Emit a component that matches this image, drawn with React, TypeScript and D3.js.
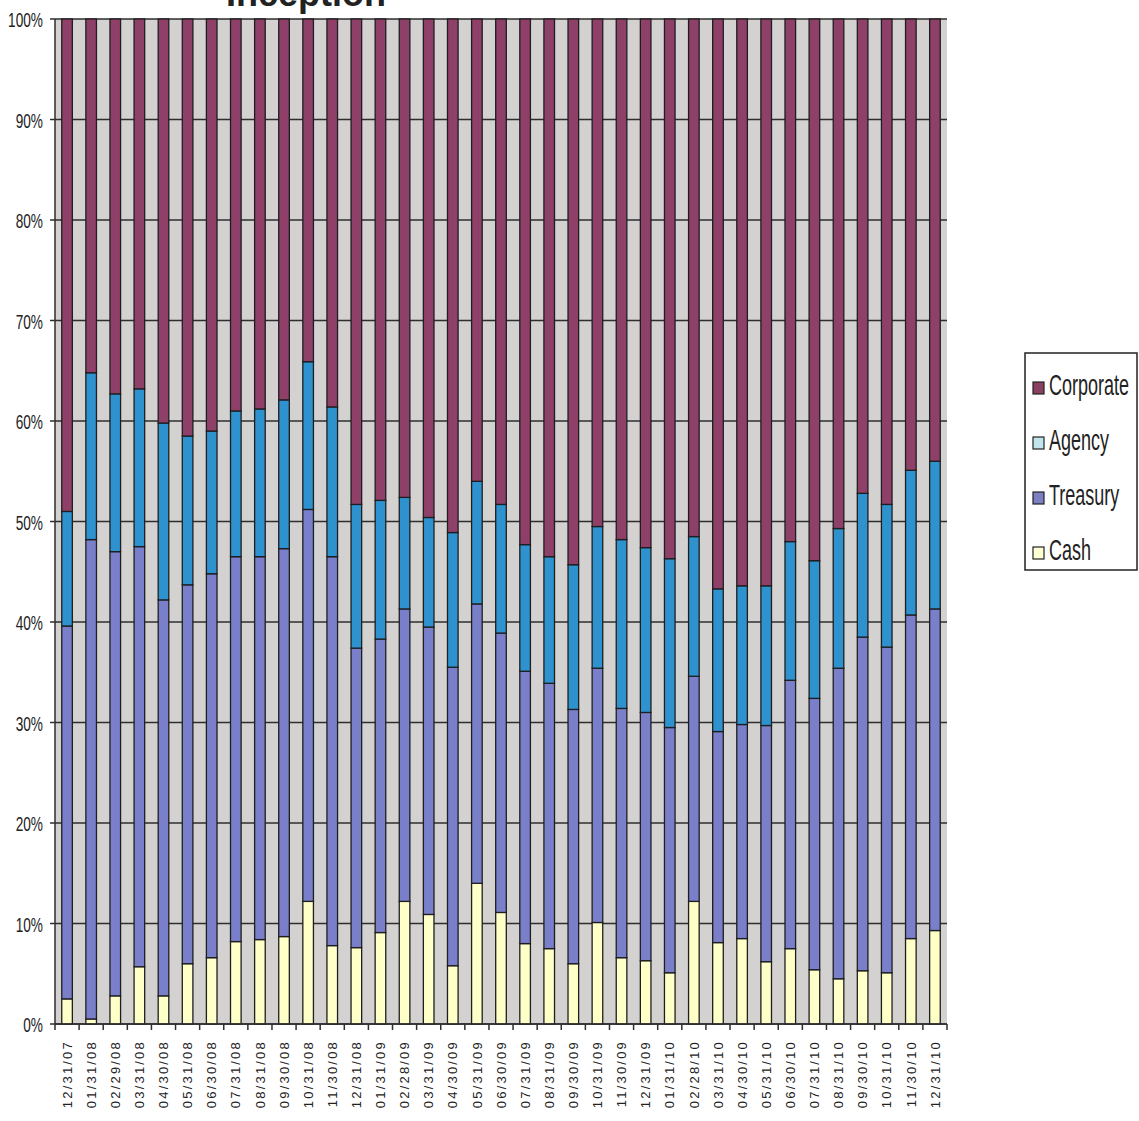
import * as d3 from 'd3';

const dates = [
  '12/31/07', '01/31/08', '02/29/08', '03/31/08', '04/30/08', '05/31/08', '06/30/08', '07/31/08',
  '08/31/08', '09/30/08', '10/31/08', '11/30/08', '12/31/08', '01/31/09', '02/28/09', '03/31/09',
  '04/30/09', '05/31/09', '06/30/09', '07/31/09', '08/31/09', '09/30/09', '10/31/09', '11/30/09',
  '12/31/09', '01/31/10', '02/28/10', '03/31/10', '04/30/10', '05/31/10', '06/30/10', '07/31/10',
  '08/31/10', '09/30/10', '10/31/10', '11/30/10', '12/31/10'
];

// percent share of each sector per month
const cash = [
  2.5, 0.5, 2.8, 5.7, 2.8, 6.0, 6.6, 8.2, 8.4, 8.7, 12.2, 7.8, 7.6, 9.1, 12.2, 10.9, 5.8, 14.0, 11.1,
  8.0, 7.5, 6.0, 10.1, 6.6, 6.3, 5.1, 12.2, 8.1, 8.5, 6.2, 7.5, 5.4, 4.5, 5.3, 5.1, 8.5, 9.3
];
const treasury = [
  37.1, 47.7, 44.2, 41.8, 39.4, 37.7, 38.2, 38.3, 38.1, 38.6, 39.0, 38.7, 29.8, 29.2, 29.1, 28.6,
  29.7, 27.8, 27.8, 27.1, 26.4, 25.3, 25.3, 24.8, 24.7, 24.4, 22.4, 21.0, 21.3, 23.5, 26.7, 27.0,
  30.9, 33.2, 32.4, 32.2, 32.0
];
const agency = [
  11.4, 16.6, 15.7, 15.7, 17.6, 14.8, 14.2, 14.5, 14.7, 14.8, 14.7, 14.9, 14.3, 13.8, 11.1, 10.9,
  13.4, 12.2, 12.8, 12.6, 12.6, 14.4, 14.1, 16.8, 16.4, 16.8, 13.9, 14.2, 13.8, 13.9, 13.8, 13.7,
  13.9, 14.3, 14.2, 14.4, 14.7
];
const corporate = [
  49.0, 35.2, 37.3, 36.8, 40.2, 41.5, 41.0, 39.0, 38.8, 37.9, 34.1, 38.6, 48.3, 47.9, 47.6, 49.6,
  51.1, 46.0, 48.3, 52.3, 53.5, 54.3, 50.5, 51.8, 52.6, 53.7, 51.5, 56.7, 56.4, 56.4, 52.0, 53.9,
  50.7, 47.2, 48.3, 44.9, 44.0
];

const seriesKeys = ['Cash', 'Treasury', 'Agency', 'Corporate'];
const barColors = ['#ffffc8', '#7a7fc9', '#2e92cf', '#8f4069'];
const legendColors = ['#ffffd2', '#7b80c2', '#c2e4ec', '#8a4062'];
const yTicks = [0, 10, 20, 30, 40, 50, 60, 70, 80, 90, 100];

const width = 1139;
const height = 1121;
const left = 55;
const right = 947;
const top = 19;
const bottom = 1024;

export default function App() {
  const rows = dates.map((d, i) => ({
    date: d,
    Cash: cash[i],
    Treasury: treasury[i],
    Agency: agency[i],
    Corporate: corporate[i]
  }));

  const stacked = d3.stack<any>().keys(seriesKeys)(rows);

  const x = d3.scaleBand().domain(dates).range([left, right]).paddingInner(0.56).paddingOuter(0.28);
  const y = d3.scaleLinear().domain([0, 100]).range([bottom, top]);
  const step = x.step();
  const font = 'Arial, "Liberation Sans", sans-serif';

  return (
    <svg
      width={width}
      height={height}
      style={{ position: 'absolute', left: 0, top: 0, background: '#fff' }}
    >
      <text
        x={306}
        y={6}
        textAnchor="middle"
        fontFamily={font}
        fontWeight="bold"
        fontSize={36}
        fill="#222"
      >
        Inception
      </text>

      <rect x={left} y={top} width={right - left} height={bottom - top} fill="#d4d1d1" />

      {yTicks.map(t => (
        <g key={t}>
          <line x1={left} x2={right} y1={y(t)} y2={y(t)} stroke="#2e2e2e" strokeWidth={1.5} />
          <line x1={left - 5} x2={left} y1={y(t)} y2={y(t)} stroke="#2e2e2e" strokeWidth={1.5} />
          <text
            transform={`translate(43,${y(t) + 8}) scale(0.65,1)`}
            textAnchor="end"
            fontFamily={font}
            fontSize={21}
            fill="#222"
          >
            {t}%
          </text>
        </g>
      ))}

      {stacked.map((s, si) => (
        <g key={s.key} fill={barColors[si]} stroke="#1e1e1e" strokeWidth={1.3}>
          {s.map((d: any, i: number) => (
            <rect
              key={i}
              x={x(dates[i])}
              width={x.bandwidth()}
              y={y(d[1])}
              height={y(d[0]) - y(d[1])}
            />
          ))}
        </g>
      ))}

      <line x1={left} x2={left} y1={top} y2={bottom} stroke="#2e2e2e" strokeWidth={1.5} />
      <line x1={left} x2={right} y1={bottom} y2={bottom} stroke="#2e2e2e" strokeWidth={1.5} />
      {d3.range(dates.length + 1).map(i => (
        <line
          key={i}
          x1={left + i * step}
          x2={left + i * step}
          y1={bottom}
          y2={bottom + 6}
          stroke="#2e2e2e"
          strokeWidth={1.5}
        />
      ))}

      {dates.map(d => (
        <text
          key={d}
          transform={`translate(${(x(d) || 0) + x.bandwidth() / 2},1040) rotate(-90)`}
          textAnchor="end"
          dy="0.36em"
          fontFamily={font}
          fontSize={13}
          letterSpacing={2.2}
          fill="#222"
        >
          {d}
        </text>
      ))}

      <rect x={1025} y={353} width={112} height={217} fill="#fff" stroke="#222" strokeWidth={1.5} />
      {seriesKeys
        .map((k, i) => ({ k, c: legendColors[i] }))
        .reverse()
        .map((e, i) => (
          <g key={e.k} transform={`translate(1033,${382 + i * 55})`}>
            <rect x={0} y={0} width={11} height={12} fill={e.c} stroke="#222" strokeWidth={1.2} />
            <text
              transform="translate(16,13) scale(0.6,1)"
              fontFamily={font}
              fontSize={30}
              fill="#222"
            >
              {e.k}
            </text>
          </g>
        ))}
    </svg>
  );
}
